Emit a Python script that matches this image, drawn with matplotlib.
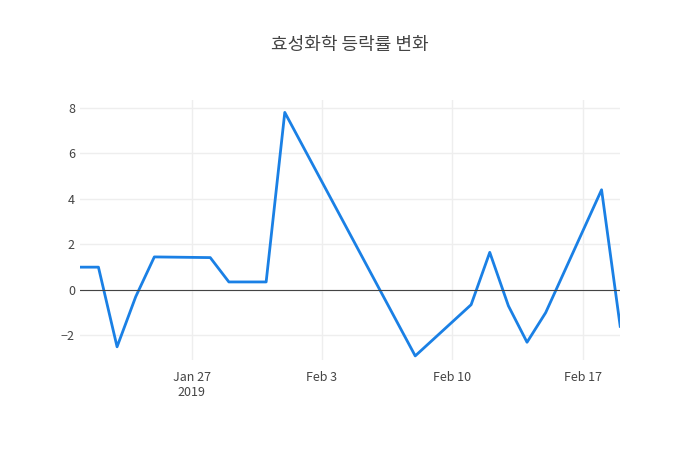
import matplotlib.pyplot as plt
import matplotlib.dates as mdates
import numpy as np

plt.rcParams['font.family'] = ['Noto Sans CJK KR', 'DejaVu Sans']

dates = ['2019-01-21', '2019-01-22', '2019-01-23', '2019-01-24', '2019-01-25',
         '2019-01-28', '2019-01-29', '2019-01-31', '2019-02-01', '2019-02-08',
         '2019-02-11', '2019-02-12', '2019-02-13', '2019-02-14', '2019-02-15',
         '2019-02-18', '2019-02-19']
rates = [1.0, 1.0, -2.5, -0.3, 1.45, 1.42, 0.35, 0.35, 7.8, -2.9,
         -0.65, 1.65, -0.7, -2.3, -1.0, 4.4, -1.6]

x = np.array(dates, dtype='datetime64[D]')

fig = plt.figure(figsize=(7, 4.5), dpi=100)
ax = fig.add_axes([0.114, 0.2, 0.772, 0.578])
ax.plot(x, rates, color='#1a80e5', linewidth=2)
ax.axhline(0, color='#444444', linewidth=0.8)

ax.set_xlim(x[0], x[-1])
ax.set_ylim(-3.08, 8.35)
ax.set_yticks([-2, 0, 2, 4, 6, 8])
ticks = np.array(['2019-01-27', '2019-02-03', '2019-02-10', '2019-02-17'], dtype='datetime64[D]')
ax.set_xticks(ticks)
ax.set_xticklabels(['Jan 27\n2019', 'Feb 3', 'Feb 10', 'Feb 17'])
ax.grid(color='#eeeeee', linewidth=1)
ax.set_axisbelow(True)
for s in ax.spines.values():
    s.set_visible(False)
ax.tick_params(length=0, colors='#444444', labelsize=9)
ax.tick_params(axis='x', pad=8)

fig.suptitle('효성화학 등락률 변화', y=0.92, fontsize=13, color='#444444')
fig.savefig('out.png', dpi=100)
